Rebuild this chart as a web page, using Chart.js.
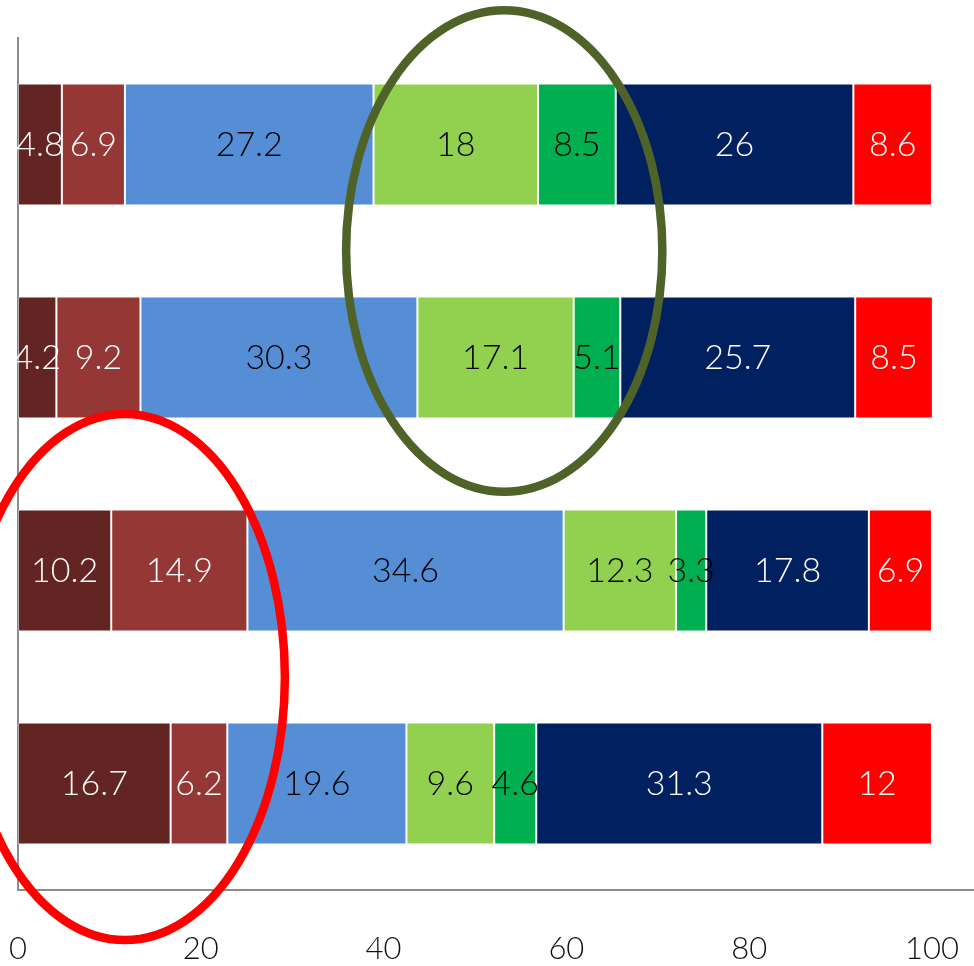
<!DOCTYPE html>
<html>
<head>
<meta charset="utf-8">
<script src="https://cdn.jsdelivr.net/npm/chart.js@4.4.1/dist/chart.umd.min.js"></script>
<style>
  html, body { margin: 0; padding: 0; background: #fff; }
  #wrap { position: relative; width: 974px; height: 966px; }
</style>
</head>
<body>
<div id="wrap"><canvas id="chart"></canvas></div>
<script>
/* ---- DATA ---- */
const categories = ['Group 1', 'Group 2', 'Group 3', 'Group 4'];

const seg1 = [4.8, 4.2, 10.2, 16.7];
const seg2 = [6.9, 9.2, 14.9, 6.2];
const seg3 = [27.2, 30.3, 34.6, 19.6];
const seg4 = [18, 17.1, 12.3, 9.6];
const seg5 = [8.5, 5.1, 3.3, 4.6];
const seg6 = [26, 25.7, 17.8, 31.3];
const seg7 = [8.6, 8.5, 6.9, 12];

const xTicks = [0, 20, 40, 60, 80, 100];

// highlight ellipses, in data units (x value, category index)
const highlights = [
  { cx: 53.2, cy: 0.5, rx: 17.3, ry: 1.13, color: '#4F6228' },
  { cx: 11.7, cy: 2.5, rx: 17.5, ry: 1.235, color: '#FF0000' }
];

/* ---- STYLE ---- */
const colors    = ['#632523', '#953735', '#558ED5', '#92D050', '#00B050', '#002060', '#FF0000'];
const txtColors = ['#fff', '#fff', '#000', '#000', '#000', '#fff', '#fff'];
const series    = [seg1, seg2, seg3, seg4, seg5, seg6, seg7];

const FONT = 'Lato';

/* ---- PLUGINS ---- */
const barLabels = {
  id: 'barLabels',
  afterDatasetsDraw(chart) {
    const ctx = chart.ctx;
    ctx.save();
    ctx.font = '300 34px ' + FONT;
    ctx.textAlign = 'center';
    ctx.textBaseline = 'middle';
    chart.data.datasets.forEach((ds, i) => {
      const meta = chart.getDatasetMeta(i);
      ctx.fillStyle = txtColors[i];
      meta.data.forEach((bar, j) => {
        const p = bar.getCenterPoint();
        ctx.fillText(String(ds.data[j]), p.x, p.y + 1);
      });
    });
    ctx.restore();
  }
};

const ellipses = {
  id: 'ellipses',
  afterDraw(chart) {
    const { ctx, scales: { x, y } } = chart;
    const unitX = x.getPixelForValue(1) - x.getPixelForValue(0);
    const unitY = y.getPixelForValue(1) - y.getPixelForValue(0);
    ctx.save();
    highlights.forEach(h => {
      ctx.beginPath();
      ctx.ellipse(x.getPixelForValue(h.cx), y.getPixelForValue(h.cy),
                  h.rx * unitX, h.ry * unitY, 0, 0, Math.PI * 2);
      ctx.strokeStyle = h.color;
      ctx.lineWidth = 8.5;
      ctx.stroke();
    });
    ctx.restore();
  }
};

/* ---- CHART ---- */
new Chart(document.getElementById('chart'), {
  type: 'bar',
  data: {
    labels: categories,
    datasets: series.map((d, i) => ({
      data: d,
      backgroundColor: colors[i],
      borderColor: 'rgba(255,255,255,0.3)',
      borderWidth: 1,
      borderSkipped: false,
      barPercentage: 0.573,
      categoryPercentage: 1
    }))
  },
  options: {
    indexAxis: 'y',
    responsive: true,
    maintainAspectRatio: false,
    animation: false,
    layout: { padding: { left: 18, top: 38, right: 0, bottom: 0 } },
    plugins: { legend: { display: false }, tooltip: { enabled: false } },
    scales: {
      x: {
        stacked: true,
        min: 0,
        max: 104.6,
        afterBuildTicks: s => { s.ticks = xTicks.map(v => ({ value: v })); },
        afterFit: s => { s.height = 76; s.paddingLeft = 0; s.paddingRight = 0; },
        grid: { display: false, drawTicks: false, tickLength: 0 },
        border: { display: true, color: '#8c8c8c', width: 2 },
        ticks: {
          color: '#111',
          padding: 40,
          autoSkip: false,
          maxRotation: 0,
          font: { family: FONT, size: 31, weight: '300' }
        }
      },
      y: {
        stacked: true,
        afterFit: s => { s.width = 0; s.paddingTop = 0; s.paddingBottom = 0; },
        grid: { display: false, drawTicks: false },
        border: { display: true, color: '#8c8c8c', width: 2 },
        ticks: { display: false }
      }
    }
  },
  plugins: [barLabels, ellipses]
});
</script>
</body>
</html>
